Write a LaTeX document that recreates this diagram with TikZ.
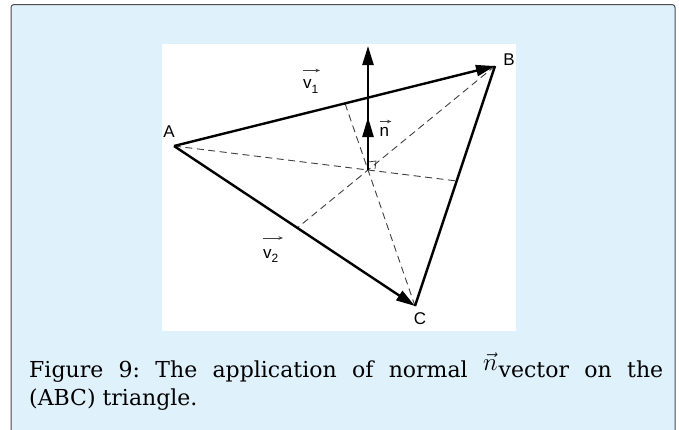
\documentclass[tikz,border=0pt]{standalone}
\usepackage{fontspec}
\setmainfont{DejaVu Serif}
\newfontfamily\labfont{Liberation Sans}
\usetikzlibrary{arrows.meta,calc}
\definecolor{boxblue}{RGB}{223,241,251}
\frenchspacing
\begin{document}
\begin{tikzpicture}[x=1pt,y=-1pt,
  thickline/.style={line width=2.4pt, black},
  bigtip/.style={-{Triangle[length=19pt,width=11pt]}},
  dashline/.style={line width=0.9pt, draw=black!75, dash pattern=on 7pt off 4.5pt},
  lab/.style={font=\labfont\fontsize{17}{20}\selectfont, inner sep=0pt},
  vecarrow/.style={-{Stealth[length=4.5pt,width=3.5pt]}, line width=0.8pt, black!75},
  caption/.style={font=\fontsize{22}{26}\selectfont, inner sep=0pt, anchor=base west}]
\useasboundingbox (0,0) rectangle (679,429);
\fill[white] (0,0) rectangle (679,429);
\draw[fill=boxblue, draw=black!70, line width=1pt, rounded corners=3pt] (11,4.5) rectangle (675,445);
\fill[white] (162,44) rectangle (516,331);

% points
\coordinate (A) at (174,146);
\coordinate (B) at (495,66);
\coordinate (C) at (415,306);
\coordinate (O) at (368,170);
\coordinate (NT) at (368,46);
\coordinate (NM) at (368,117);
\coordinate (PA) at (intersection of A--O and B--C);
\coordinate (PB) at (intersection of B--O and A--C);
\coordinate (PC) at (intersection of C--O and A--B);

% dashed lines
\draw[dashline] (A) -- (PA);
\draw[dashline] (B) -- (PB);
\draw[dashline] (C) -- (PC);

% right angle mark
\draw[line width=0.7pt, black!80] ($(O)+(0,-8)$) -- ($(O)+(8,-9)$) -- ($(O)+(7,-1)$);

% triangle
\draw[thickline] (B) -- (C);
\draw[thickline, bigtip] (A) -- (B);
\draw[thickline, bigtip] (A) -- (C);

% normal vector
\draw[thickline, bigtip] (O) -- (NT);
\draw[thickline, -{Triangle[length=20pt,width=11pt]}] (O) -- (NM);

% labels
\node[lab, anchor=base] (la) at (169,137) {A};
\node[lab, anchor=base] (lb) at (509,65.5) {B};
\node[lab, anchor=base] (lc) at (420,324.5) {C};

\node[lab, anchor=base west] (v1) at (303,88.5) {v{\fontsize{12}{12}\selectfont\raisebox{-5pt}{1}}};
\draw[vecarrow] ($(v1.base west)+(0,-18)$) -- ++(17,0);

\node[lab, anchor=base west] (v2) at (263,258) {v{\fontsize{12}{12}\selectfont\raisebox{-4pt}{2}}};
\draw[vecarrow] ($(v2.base west)+(0,-20)$) -- ++(20,0);

\node[lab, anchor=base west] (nl) at (379.5,136.5) {n};
\draw[vecarrow] ($(nl.base west)+(0,-15)$) -- ++(12,0);

% caption
\node[caption] (cap1) at (29,377) {\makebox[634pt][s]{Figure 9: The application of normal \raisebox{7pt}{\fontsize{24}{24}\selectfont$\vec{n}$}\hspace{1pt}vector on the}};
\node[caption] (cap2) at (29,405) {(ABC) triangle.};
\end{tikzpicture}
\end{document}
